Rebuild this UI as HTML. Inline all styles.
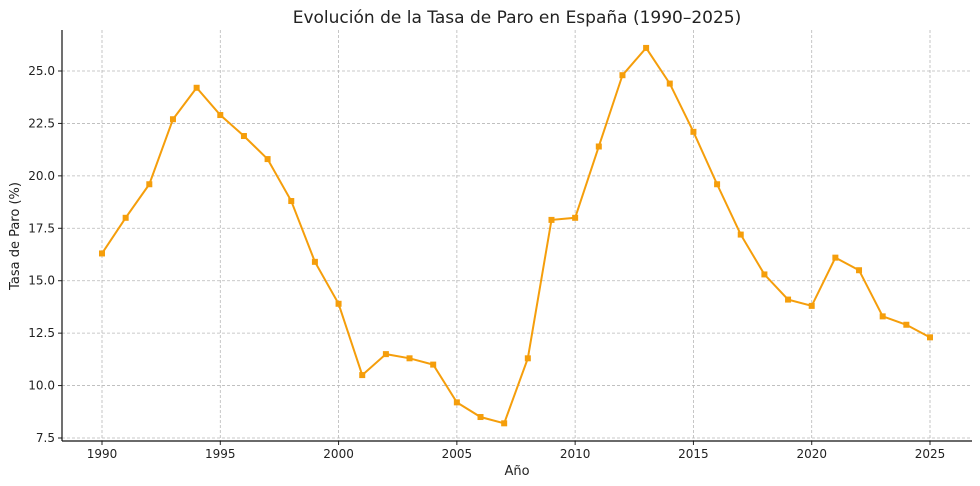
<!DOCTYPE html>
<html><head><meta charset="utf-8"><style>
body{margin:0;background:#fff;}
svg{display:block;font-family:"DejaVu Sans","Liberation Sans",sans-serif;}
</style></head><body>
<svg id="chart" width="980" height="486">
<text x="517" y="23" text-anchor="middle" font-size="17" fill="#222">Evolución de la Tasa de Paro en España (1990–2025)</text>
<g id="grid"></g><g id="axes"></g><g id="series"></g>
<text x="517" y="475" text-anchor="middle" font-size="13" fill="#222">Año</text>
<text transform="translate(19,236) rotate(-90)" text-anchor="middle" font-size="13" fill="#222">Tasa de Paro (%)</text>
</svg>
<script>
const years=[1990,1991,1992,1993,1994,1995,1996,1997,1998,1999,2000,2001,2002,2003,2004,2005,2006,2007,2008,2009,2010,2011,2012,2013,2014,2015,2016,2017,2018,2019,2020,2021,2022,2023,2024,2025];
const rates=[16.3,18.0,19.6,22.7,24.2,22.9,21.9,20.8,18.8,15.9,13.9,10.5,11.5,11.3,11.0,9.2,8.5,8.2,11.3,17.9,18.0,21.4,24.8,26.1,24.4,22.1,19.6,17.2,15.3,14.1,13.8,16.1,15.5,13.3,12.9,12.3];
const xTicks=[1990,1995,2000,2005,2010,2015,2020,2025];
const yTicks=[7.5,10.0,12.5,15.0,17.5,20.0,22.5,25.0];
const NS='http://www.w3.org/2000/svg';
const L=62,R=972,T=30,B=441;
function x(v){return 102+(v-1990)*(930-102)/35;}
function y(v){return 438-(v-7.5)*(438-71)/17.5;}
function mk(tag,attrs,parent){const e=document.createElementNS(NS,tag);for(const k in attrs)e.setAttribute(k,attrs[k]);parent.appendChild(e);return e;}
const grid=document.getElementById('grid'),axes=document.getElementById('axes'),series=document.getElementById('series');
xTicks.forEach(t=>{
 const g=mk('line',{x1:x(t),x2:x(t),y1:T,y2:B,stroke:'#b8b8b8','stroke-dasharray':'3,2','stroke-width':0.8},grid);
 
 
 mk('line',{x1:x(t),x2:x(t),y1:B,y2:B+4,stroke:'#222'},axes);
 const tx=mk('text',{x:x(t),y:B+17,'text-anchor':'middle','font-size':12,fill:'#222'},axes);
 tx.textContent=t;
 
 
});
yTicks.forEach(t=>{
 const g=mk('line',{x1:L,x2:R,y1:y(t),y2:y(t),stroke:'#b8b8b8','stroke-dasharray':'3,2','stroke-width':0.8},grid);
 
 
 mk('line',{x1:L-4,x2:L,y1:y(t),y2:y(t),stroke:'#222'},axes);
 const tx=mk('text',{x:L-7,y:y(t)+4,'text-anchor':'end','font-size':12,fill:'#222'},axes);
 tx.textContent=t.toFixed(1);
 
 
});
const la=mk('line',{x1:L,x2:L,y1:T,y2:B,stroke:'#111','stroke-width':1.2},axes);


const ba=mk('line',{x1:L,x2:R,y1:B,y2:B,stroke:'#111','stroke-width':1.2},axes);


const pl=mk('polyline',{points:years.map((v,i)=>x(v)+','+y(rates[i])).join(' '),fill:'none',stroke:'#f59e0b','stroke-width':2},series);


years.forEach((v,i)=>{
 const m=mk('rect',{x:x(v)-3,y:y(rates[i])-3,width:6,height:6,fill:'#f59e0b'},series);
 
 
});
</script>
</body></html>
